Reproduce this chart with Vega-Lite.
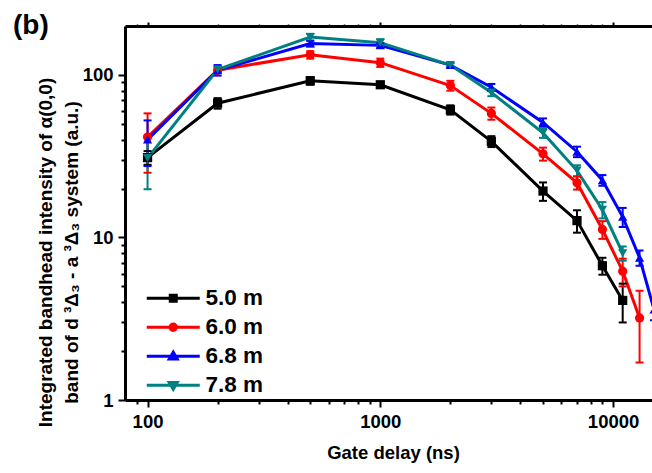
{
  "$schema": "https://vega.github.io/schema/vega-lite/v6.json",
  "width": 527,
  "height": 374,
  "autosize": {"type": "none"},
  "padding": {"left": 125, "top": 26, "right": 0, "bottom": 73},
  "background": "white",
  "config": {
    "view": {"stroke": null},
    "font": "Liberation Sans",
    "axis": {"grid": false, "domainColor": "black", "tickColor": "black", "labelColor": "black", "titleColor": "black", "labelFont": "Liberation Sans", "titleFont": "Liberation Sans", "labelFontWeight": "bold", "titleFontWeight": "bold"}
  },
  "title": {"text": "(b)", "anchor": "start", "frame": "group", "orient": "top", "offset": 0, "baseline": "alphabetic", "dx": -112, "dy": 41, "fontSize": 28, "font": "Liberation Sans", "fontWeight": "bold", "color": "black"},
  "data": {
    "values": [
      {"series": "5.0 m", "delay": 100, "value": 31, "lo": 28, "hi": 34},
      {"series": "5.0 m", "delay": 200, "value": 67, "lo": 62, "hi": 72},
      {"series": "5.0 m", "delay": 500, "value": 92, "lo": 87, "hi": 97},
      {"series": "5.0 m", "delay": 1000, "value": 87, "lo": 84, "hi": 90},
      {"series": "5.0 m", "delay": 2000, "value": 61, "lo": 57, "hi": 65},
      {"series": "5.0 m", "delay": 3000, "value": 39, "lo": 36, "hi": 42},
      {"series": "5.0 m", "delay": 5000, "value": 19.3, "lo": 16.8, "hi": 21.8},
      {"series": "5.0 m", "delay": 7000, "value": 12.7, "lo": 10.7, "hi": 14.7},
      {"series": "5.0 m", "delay": 9000, "value": 6.7, "lo": 5.9, "hi": 7.5},
      {"series": "5.0 m", "delay": 11000, "value": 4.1, "lo": 3.0, "hi": 5.2},
      {"series": "6.0 m", "delay": 100, "value": 41.5, "lo": 25, "hi": 58},
      {"series": "6.0 m", "delay": 200, "value": 107, "lo": 103, "hi": 111},
      {"series": "6.0 m", "delay": 500, "value": 133, "lo": 126, "hi": 140},
      {"series": "6.0 m", "delay": 1000, "value": 119, "lo": 112, "hi": 126},
      {"series": "6.0 m", "delay": 2000, "value": 86, "lo": 80, "hi": 92},
      {"series": "6.0 m", "delay": 3000, "value": 58, "lo": 53, "hi": 63},
      {"series": "6.0 m", "delay": 5000, "value": 32.7, "lo": 29.7, "hi": 35.7},
      {"series": "6.0 m", "delay": 7000, "value": 21.7, "lo": 19.7, "hi": 23.7},
      {"series": "6.0 m", "delay": 9000, "value": 11.2, "lo": 9.8, "hi": 12.6},
      {"series": "6.0 m", "delay": 11000, "value": 6.2, "lo": 5.0, "hi": 7.4},
      {"series": "6.0 m", "delay": 13000, "value": 3.2, "lo": 1.7, "hi": 4.7},
      {"series": "6.8 m", "delay": 100, "value": 40, "lo": 27.5, "hi": 52.5},
      {"series": "6.8 m", "delay": 200, "value": 107, "lo": 99, "hi": 115},
      {"series": "6.8 m", "delay": 500, "value": 156, "lo": 150, "hi": 162},
      {"series": "6.8 m", "delay": 1000, "value": 152, "lo": 147, "hi": 157},
      {"series": "6.8 m", "delay": 2000, "value": 115, "lo": 112, "hi": 118},
      {"series": "6.8 m", "delay": 3000, "value": 84, "lo": 80, "hi": 88},
      {"series": "6.8 m", "delay": 5000, "value": 51, "lo": 48, "hi": 54},
      {"series": "6.8 m", "delay": 7000, "value": 33.7, "lo": 31.2, "hi": 36.2},
      {"series": "6.8 m", "delay": 9000, "value": 22.5, "lo": 20.8, "hi": 24.2},
      {"series": "6.8 m", "delay": 11000, "value": 13.4, "lo": 11.6, "hi": 15.2},
      {"series": "6.8 m", "delay": 13000, "value": 7.5, "lo": 6.7, "hi": 8.3},
      {"series": "6.8 m", "delay": 15000, "value": 3.6, "lo": 3.1, "hi": 4.1},
      {"series": "7.8 m", "delay": 100, "value": 30.8, "lo": 19.8, "hi": 41.8},
      {"series": "7.8 m", "delay": 200, "value": 108, "lo": 104, "hi": 112},
      {"series": "7.8 m", "delay": 500, "value": 171, "lo": 163, "hi": 179},
      {"series": "7.8 m", "delay": 1000, "value": 158, "lo": 150, "hi": 166},
      {"series": "7.8 m", "delay": 2000, "value": 115, "lo": 112, "hi": 118},
      {"series": "7.8 m", "delay": 3000, "value": 78, "lo": 74, "hi": 82},
      {"series": "7.8 m", "delay": 5000, "value": 44, "lo": 41, "hi": 47},
      {"series": "7.8 m", "delay": 7000, "value": 25.8, "lo": 23.8, "hi": 27.8},
      {"series": "7.8 m", "delay": 9000, "value": 14.8, "lo": 13.1, "hi": 16.5},
      {"series": "7.8 m", "delay": 11000, "value": 8.0, "lo": 7.2, "hi": 8.8}
    ]
  },
  "resolve": {"axis": {"x": "independent", "y": "independent"}},
  "layer": [
    {
      "mark": {"type": "line", "strokeWidth": 3, "clip": true},
      "encoding": {
        "x": {"field": "delay", "type": "quantitative", "scale": {"type": "log", "domain": [80, 14700], "nice": false},
          "axis": {"orient": "bottom", "values": [100, 1000, 10000], "format": "d", "labelFontSize": 18.5, "labelPadding": 5, "tickSize": 7, "tickWidth": 2, "domainWidth": 3, "title": "Gate delay (ns)", "titleFontSize": 18.5, "titleX": 268, "titleY": 58, "titleAlign": "center", "titleBaseline": "alphabetic", "titleAnchor": null}},
        "y": {"field": "value", "type": "quantitative", "scale": {"type": "log", "domain": [1, 200], "nice": false},
          "axis": {"orient": "left", "values": [1, 10, 100], "format": "d", "labelFontSize": 18.5, "labelPadding": 5, "tickSize": 7, "tickWidth": 2, "domainWidth": 3,
            "title": ["Integrated bandhead intensity of α(0,0)", "band of d ³Δ₃ - a ³Δ₃ system (a.u.)"], "titleFontSize": 19, "titleLineHeight": 26, "titleAngle": 270, "titleX": -89, "titleY": 226, "titleAlign": "center", "titleBaseline": "top", "titleAnchor": null}},
        "color": {"field": "series", "type": "nominal",
          "scale": {"domain": ["5.0 m", "6.0 m", "6.8 m", "7.8 m"], "range": ["#000000", "#ff0000", "#0000ff", "#008080"]},
          "legend": {
            "orient": "none", "legendX": 23, "legendY": 261, "title": null, "padding": 0,
            "labelFont": "Liberation Sans", "labelFontSize": 22.5, "labelFontWeight": "bold", "labelColor": "black",
            "symbolSize": 100, "symbolStrokeWidth": 3, "rowPadding": 6, "labelOffset": 21, "symbolOffset": 14,
            "encode": {"symbols": {"update": {
              "shape": {"signal": "datum.value === '5.0 m' ? 'M-5.3,0H5.3M-0.6,-0.6H0.6V0.6H-0.6Z' : datum.value === '6.0 m' ? 'M-5.3,0H5.3M-0.65,0A0.65,0.65 0 1,0 0.65,0A0.65,0.65 0 1,0 -0.65,0Z' : datum.value === '6.8 m' ? 'M-5.3,0H5.3M0,-0.8L0.8,0.55L-0.8,0.55Z' : 'M-5.3,0H5.3M0,0.8L0.8,-0.55L-0.8,-0.55Z'"},
              "size": {"value": 100},
              "fill": {"signal": "scale('color', datum.value)"},
              "stroke": {"signal": "scale('color', datum.value)"},
              "fillOpacity": {"value": 1},
              "strokeOpacity": {"value": 1},
              "strokeWidth": {"value": 3}
            }}}
          }}
      }
    },
    {
      "mark": {"type": "rule", "strokeWidth": 2, "clip": true},
      "encoding": {
        "x": {"field": "delay", "type": "quantitative", "scale": {"type": "log", "domain": [80, 14700], "nice": false},
          "axis": {"orient": "bottom", "values": [90, 200, 300, 400, 500, 600, 700, 800, 900, 2000, 3000, 4000, 5000, 6000, 7000, 8000, 9000], "labels": false, "domain": false, "tickSize": 4, "tickWidth": 2, "title": null}},
        "y": {"field": "lo", "type": "quantitative", "scale": {"type": "log", "domain": [1, 200], "nice": false},
          "axis": {"orient": "left", "values": [2, 3, 4, 5, 6, 7, 8, 9, 20, 30, 40, 50, 60, 70, 80, 90], "labels": false, "domain": false, "tickSize": 4, "tickWidth": 2, "title": null}},
        "y2": {"field": "hi"},
        "color": {"field": "series", "type": "nominal", "legend": null}
      }
    },
    {
      "mark": {"type": "tick", "orient": "horizontal", "size": 8, "thickness": 2, "clip": true},
      "encoding": {
        "x": {"field": "delay", "type": "quantitative", "scale": {"type": "log", "domain": [80, 14700], "nice": false},
          "axis": {"orient": "top", "values": [100, 1000, 10000], "labels": false, "tickSize": 4, "tickWidth": 2, "domainWidth": 3, "title": null}},
        "y": {"field": "lo", "type": "quantitative", "scale": {"type": "log", "domain": [1, 200], "nice": false}, "axis": null},
        "color": {"field": "series", "type": "nominal", "legend": null},
        "opacity": {"value": 1}
      }
    },
    {
      "mark": {"type": "tick", "orient": "horizontal", "size": 8, "thickness": 2, "clip": true},
      "encoding": {
        "x": {"field": "delay", "type": "quantitative", "scale": {"type": "log", "domain": [80, 14700], "nice": false},
          "axis": {"orient": "top", "values": [90, 200, 300, 400, 500, 600, 700, 800, 900, 2000, 3000, 4000, 5000, 6000, 7000, 8000, 9000], "labels": false, "domain": false, "tickSize": 2, "tickWidth": 1.5, "title": null}},
        "y": {"field": "hi", "type": "quantitative", "scale": {"type": "log", "domain": [1, 200], "nice": false}, "axis": null},
        "color": {"field": "series", "type": "nominal", "legend": null},
        "opacity": {"value": 1}
      }
    },
    {
      "mark": {"type": "point", "filled": true, "size": 85, "opacity": 1, "clip": true},
      "encoding": {
        "x": {"field": "delay", "type": "quantitative", "scale": {"type": "log", "domain": [80, 14700], "nice": false}, "axis": null},
        "y": {"field": "value", "type": "quantitative", "scale": {"type": "log", "domain": [1, 200], "nice": false}, "axis": null},
        "color": {"field": "series", "type": "nominal", "legend": null},
        "shape": {"field": "series", "type": "nominal", "scale": {"range": ["square", "circle", "triangle-up", "triangle-down"]}, "legend": null}
      }
    }
  ]
}
